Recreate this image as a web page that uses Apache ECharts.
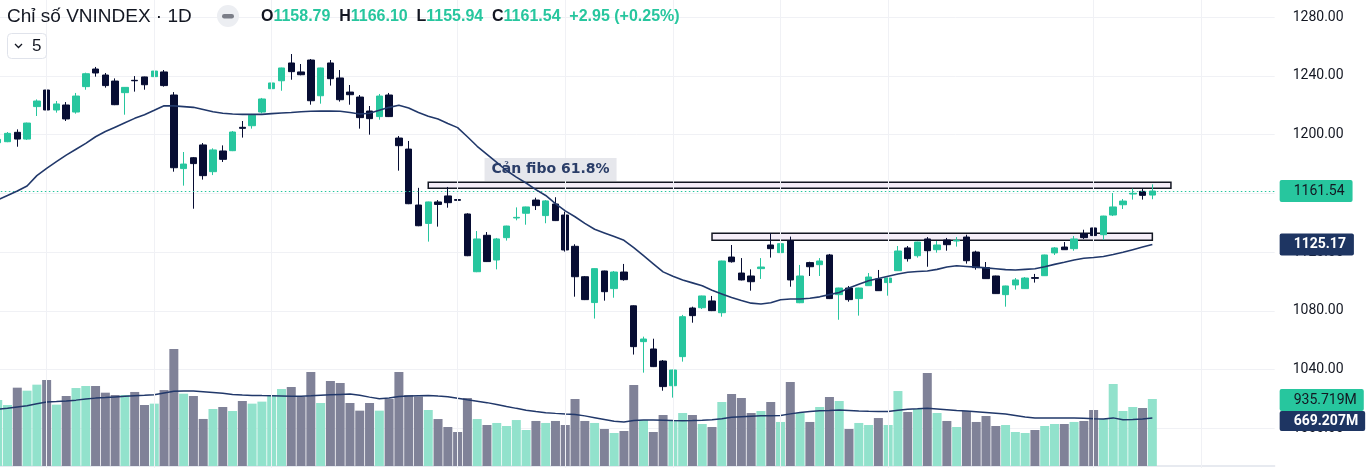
<!DOCTYPE html>
<html>
<head>
<meta charset="utf-8">
<title>VNINDEX 1D</title>
<script src="https://cdn.jsdelivr.net/npm/echarts@6/dist/echarts.min.js"></script>
<style>
  html, body { margin: 0; padding: 0; background: #fff; }
  #chart { width: 1366px; height: 468px; }
</style>
</head>
<body>
<div id="chart"></div>
<script>
// daily sessions, oldest first (the first one is cut by the left edge)
const openVals = [
  1194.4, 1195.1, 1201.5, 1196.9, 1219.0, 1230.3, 1216.7, 1220.1, 1215.3, 1232.6,
  1244.6, 1240.5, 1236.4, 1228.5, 1236.9, 1239.2, 1239.4, 1242.6, 1226.9, 1176.8,
  1184.2, 1192.9, 1174.7, 1188.8, 1189.0, 1204.9, 1206.0, 1215.3, 1231.2, 1236.6,
  1248.7, 1242.6, 1250.7, 1226.4, 1248.7, 1238.5, 1228.9, 1225.5, 1216.0, 1212.2,
  1226.9, 1197.6, 1190.1, 1152.0, 1139.5, 1154.1, 1158.2, 1155.7, 1145.9, 1106.6,
  1131.4, 1114.6, 1129.8, 1143.2, 1146.4, 1155.4, 1144.8, 1152.7, 1145.2, 1123.9,
  1103.2, 1085.6, 1107.1, 1095.1, 1106.4, 1083.4, 1059.0, 1054.0, 1045.8, 1029.0,
  1048.8, 1081.9, 1082.1, 1086.7, 1078.7, 1116.6, 1105.7, 1103.7, 1108.7, 1124.8,
  1119.6, 1127.7, 1085.5, 1112.8, 1111.4, 1118.0, 1091.0, 1095.5, 1088.3, 1097.1,
  1101.7, 1099.2, 1107.3, 1122.8, 1117.5, 1128.9, 1121.6, 1128.2, 1127.5, 1130.2,
  1120.0, 1109.4, 1103.7, 1091.0, 1097.6, 1095.1, 1102.6, 1103.9, 1119.4, 1123.4,
  1122.3, 1132.5, 1136.4, 1131.8, 1145.2, 1152.2, 1159.5, 1161.3, 1158.79
]
const highVals = [
  1197.5, 1201.7, 1203.5, 1208.1, 1223.9, 1234.6, 1222.8, 1222.1, 1228.3, 1242.1,
  1246.0, 1241.9, 1238.2, 1232.3, 1239.8, 1239.4, 1243.5, 1243.9, 1228.9, 1188.1,
  1184.7, 1194.2, 1190.6, 1192.6, 1202.4, 1209.2, 1214.0, 1224.9, 1236.4, 1245.5,
  1254.8, 1248.0, 1251.4, 1245.5, 1250.7, 1243.9, 1233.7, 1226.9, 1219.4, 1227.6,
  1228.3, 1199.0, 1195.6, 1163.7, 1154.3, 1155.4, 1164.3, 1161.6, 1146.4, 1134.3,
  1133.6, 1129.6, 1137.9, 1150.4, 1150.9, 1157.0, 1155.4, 1157.3, 1147.5, 1125.3,
  1103.7, 1108.9, 1107.3, 1107.1, 1111.9, 1083.7, 1062.4, 1061.0, 1046.5, 1039.9,
  1077.2, 1082.8, 1090.3, 1090.1, 1114.1, 1124.8, 1115.9, 1108.2, 1115.9, 1132.7,
  1126.4, 1130.5, 1111.2, 1113.4, 1115.9, 1118.7, 1095.7, 1096.9, 1095.7, 1105.7,
  1107.8, 1102.5, 1124.1, 1124.1, 1127.0, 1130.2, 1127.5, 1129.6, 1130.2, 1131.8,
  1120.9, 1113.2, 1103.9, 1097.1, 1102.3, 1103.0, 1105.1, 1118.2, 1123.4, 1126.8,
  1130.9, 1135.2, 1139.8, 1144.7, 1160.2, 1156.1, 1163.2, 1163.2, 1166.10
]
const lowVals = [
  1193.5, 1194.8, 1191.7, 1196.3, 1212.6, 1216.5, 1214.9, 1209.2, 1214.2, 1230.5,
  1239.4, 1231.9, 1220.0, 1213.5, 1229.2, 1230.5, 1235.3, 1232.6, 1174.7, 1165.2,
  1149.5, 1169.3, 1172.4, 1181.3, 1188.7, 1197.9, 1204.0, 1214.4, 1228.9, 1229.8,
  1237.3, 1240.3, 1220.3, 1221.0, 1233.3, 1222.4, 1220.3, 1204.0, 1199.9, 1210.1,
  1211.9, 1175.4, 1152.6, 1137.6, 1127.1, 1137.3, 1150.2, 1150.2, 1117.2, 1106.3,
  1113.2, 1108.2, 1127.8, 1141.6, 1138.6, 1148.6, 1139.6, 1141.1, 1120.3, 1089.6,
  1087.3, 1074.7, 1086.9, 1088.9, 1100.5, 1050.2, 1037.9, 1041.7, 1025.6, 1020.9,
  1045.4, 1071.9, 1081.2, 1079.8, 1076.0, 1112.8, 1100.7, 1093.7, 1101.7, 1116.2,
  1115.5, 1096.4, 1085.2, 1103.7, 1103.7, 1088.0, 1073.9, 1086.2, 1076.7, 1096.9,
  1093.5, 1090.3, 1107.1, 1113.5, 1116.2, 1110.0, 1119.6, 1120.9, 1123.7, 1112.1,
  1108.0, 1101.7, 1091.5, 1082.8, 1094.4, 1094.9, 1099.2, 1103.7, 1118.0, 1121.4,
  1120.9, 1128.9, 1128.9, 1128.2, 1144.5, 1149.3, 1155.7, 1155.7, 1155.94
]
const closeVals = [
  1196.7, 1200.8, 1196.9, 1207.8, 1222.8, 1216.7, 1220.8, 1210.6, 1226.2, 1241.4,
  1241.9, 1233.3, 1220.3, 1232.1, 1236.6, 1233.9, 1243.2, 1233.3, 1177.4, 1179.9,
  1180.2, 1172.0, 1189.5, 1183.1, 1201.7, 1204.2, 1213.1, 1224.2, 1235.1, 1245.3,
  1242.8, 1240.7, 1223.0, 1245.3, 1238.0, 1223.7, 1227.1, 1211.5, 1210.8, 1226.2,
  1212.2, 1192.4, 1152.9, 1137.9, 1154.1, 1152.4, 1153.6, 1155.2, 1117.5, 1128.9,
  1113.5, 1128.9, 1137.7, 1143.6, 1150.7, 1151.6, 1154.8, 1141.4, 1121.4, 1103.2,
  1087.6, 1108.7, 1093.0, 1106.4, 1101.2, 1055.6, 1060.8, 1042.0, 1028.4, 1039.7,
  1076.0, 1076.7, 1090.1, 1080.1, 1113.9, 1113.4, 1101.0, 1099.8, 1109.8, 1122.3,
  1125.7, 1101.0, 1103.7, 1110.0, 1113.9, 1088.3, 1095.5, 1087.6, 1095.5, 1103.0,
  1093.7, 1102.3, 1120.7, 1115.5, 1126.8, 1120.9, 1124.8, 1125.0, 1128.0, 1114.1,
  1109.4, 1101.9, 1091.7, 1096.9, 1101.0, 1102.3, 1102.1, 1118.0, 1122.8, 1121.6,
  1128.9, 1129.8, 1131.2, 1144.5, 1150.7, 1154.7, 1160.0, 1158.59, 1161.54
]
// volume in millions
const volumeVals = [
  922, 852, 1094, 1052, 1136, 1201, 857, 978, 1089, 1117,
  1117, 1024, 992, 992, 1034, 852, 871, 1061, 1634, 1010,
  978, 657, 796, 824, 768, 908, 871, 899, 992, 1075,
  1103, 968, 1313, 880, 1187, 1159, 880, 773, 880, 773,
  936, 1313, 992, 970, 782, 656, 545, 475, 950, 656,
  573, 601, 559, 642, 503, 629, 601, 629, 573, 936,
  629, 601, 517, 461, 489, 1131, 642, 475, 712, 629,
  740, 712, 587, 545, 894, 1006, 950, 740, 768, 894,
  615, 1173, 740, 615, 824, 964, 908, 517, 601, 573,
  670, 573, 1047, 754, 796, 1299, 740, 629, 545, 768,
  615, 698, 559, 573, 475, 461, 503, 559, 587, 587,
  615, 629, 782, 656, 1145, 768, 824, 810, 935.719
]
// moving averages as drawn on the chart
const ma20Vals = [
  1155.5, 1158.5, 1161.5, 1165, 1172, 1177, 1181.5, 1186, 1190, 1194,
  1198.5, 1202, 1205, 1208, 1211, 1213.5, 1216.5, 1219.6, 1219.5, 1219,
  1218.5, 1217, 1215.5, 1214.5, 1214, 1213.7, 1213.7, 1213.7, 1214.2, 1214.6,
  1215, 1215.5, 1215.8, 1216, 1215.9, 1215.8, 1215, 1214, 1214.5, 1216.5,
  1218.5, 1219.9, 1218, 1215, 1212.5, 1210.5, 1207.5, 1204.7, 1198.5, 1192,
  1186.5, 1181, 1175.5, 1171, 1167, 1162.5, 1158.5, 1153, 1148, 1144,
  1139.5, 1135.5, 1133, 1130.5, 1128, 1123, 1117.5, 1112, 1106.5, 1103.5,
  1101, 1099, 1097, 1094, 1091.5, 1089, 1087, 1085.2, 1084.6, 1085.5,
  1087.5, 1088, 1088, 1088.5, 1089.5, 1091, 1092.5, 1095.5, 1098, 1100.5,
  1102, 1103.5, 1105, 1106.2, 1106.8, 1107.1, 1108.2, 1109.8, 1110.7, 1110.2,
  1109.7, 1109.2, 1108.6, 1108, 1107.8, 1108.2, 1108.6, 1110, 1111.6, 1113,
  1114.6, 1115.8, 1116.3, 1117, 1118.3, 1119.8, 1121.6, 1123.4, 1125.17
]
const volMaVals = [
  795, 805, 825, 843, 870, 894, 900, 908, 920, 935,
  948, 955, 965, 975, 982, 988, 996, 1020, 1043, 1046,
  1047, 1038, 1028, 1015, 1000, 990, 986, 983, 981, 978,
  975, 974, 980, 988, 995, 1000, 1004, 988, 962, 940,
  950, 972, 978, 982, 986, 976, 968, 946, 925, 905,
  885, 860, 832, 805, 780, 760, 745, 735, 726, 718,
  700, 675, 650, 625, 615, 635, 642, 642, 640, 635,
  633, 636, 640, 645, 660, 680, 688, 696, 703, 703,
  705, 728, 748, 760, 770, 775, 782, 775, 768, 763,
  760, 762, 778, 792, 798, 805, 795, 785, 775, 768,
  758, 748, 738, 725, 705, 685, 670, 670, 670, 670,
  670, 668, 660, 658, 672, 645, 650, 658, 669.207
]
// sessions carrying a time-axis grid line
const timeGrid = [5, 16, 28, 47, 58, 69, 80, 91, 112, 123]
// drawn zones: [fromSession, lowPrice, toSession, highPrice]
const zones = [
  [44.0, 1163.4, 119.9, 1167.5],
  [73.0, 1128.0, 118.0, 1132.8]
]
const zoneNote = { text: 'Cản fibo 61.8%', session: 56.5, price: 1176.2 }
const slotCount = 131 // sessions + empty space on the right

const UP = '#27c69e'
const DOWN = '#070d33'
const NAVY = '#21386a'
const BADGE_NAVY = '#1e3562'
const FONT = 'Roboto'
const HEAD_FONT = 'Liberation Sans'
const HIDDEN_LINE = { color: 'rgba(0,0,0,0)', width: 0 }

const cats = Array.from({ length: slotCount }, (_, i) => String(i))
const candles = openVals.map((o, i) => [o, closeVals[i], lowVals[i], highVals[i]])
const volBars = volumeVals.map((v, i) => ({
  value: v,
  itemStyle: { color: closeVals[i] >= openVals[i] ? '#92e2cc' : '#808298' }
}))

const n = closeVals.length
const lastO = openVals[n - 1], lastH = highVals[n - 1], lastL = lowVals[n - 1], lastC = closeVals[n - 1]
const chg = lastC - closeVals[n - 2]
const chgPct = chg / closeVals[n - 2] * 100
const sign = chg >= 0 ? '+' : ''

// plot geometry: one session every 9.785px
const gridLeft = -7.18
const gridWidth = slotCount * 9.785

function badge(text, bg, fg, opt) {
  return Object.assign({
    show: true,
    position: 'end',
    distance: 5,
    formatter: text,
    backgroundColor: bg,
    color: fg,
    opacity: 1,
    fontFamily: FONT,
    fontSize: 14,
    lineHeight: 14,
    padding: [4, 8, 4, 14],
    borderRadius: 2
  }, opt || {})
}

const chart = echarts.init(document.getElementById('chart'))
chart.setOption({
  animation: false,
  backgroundColor: '#ffffff',
  title: [
    {
      text: 'Chỉ số VNINDEX · 1D',
      left: 7,
      top: 7,
      padding: 0,
      textStyle: { fontFamily: HEAD_FONT, fontSize: 19, fontWeight: 'normal', color: '#131722', lineHeight: 19 }
    },
    {
      text: '{k|O}{v|' + lastO.toFixed(2) + '}{k|H}{v|' + lastH.toFixed(2) + '}{k|L}{v|' + lastL.toFixed(2) +
        '}{k|C}{v|' + lastC.toFixed(2) + '}{v|' + sign + chg.toFixed(2) + ' (' + sign + chgPct.toFixed(2) + '%)}',
      left: 261,
      top: 9,
      padding: 0,
      textStyle: {
        rich: {
          k: { fontFamily: HEAD_FONT, fontSize: 16, color: '#131722', lineHeight: 16 },
          v: { fontFamily: HEAD_FONT, fontSize: 16, color: UP, lineHeight: 16, padding: [0, 8.8, 0, 0] }
        }
      }
    }
  ],
  graphic: [
    { type: 'circle', shape: { cx: 228, cy: 16, r: 11 }, style: { fill: '#eceef2' }, z: 10 },
    { type: 'rect', shape: { x: 222, y: 14, width: 12, height: 4.5, r: 2.2 }, style: { fill: '#7b7e88' }, z: 11 },
    { type: 'rect', shape: { x: 7.5, y: 33.5, width: 39, height: 25, r: 4 }, style: { fill: '#fff', stroke: '#e0e3eb', lineWidth: 1 }, z: 10 },
    { type: 'polyline', shape: { points: [[15, 44], [18.5, 47.5], [22, 44]] }, style: { stroke: '#131722', lineWidth: 1.3, fill: null }, z: 11 },
    { type: 'text', x: 32, y: 46.5, style: { text: '5', fontFamily: HEAD_FONT, fontSize: 17, fill: '#131722', verticalAlign: 'middle' }, z: 11 }
  ],
  grid: [
    // price pane: 1300 at the top edge, 960 at the bottom edge (both off the canvas)
    { left: gridLeft, width: gridWidth, top: -12.38, height: 499.46, containLabel: false, outerBoundsMode: 'none' },
    // volume overlay
    { left: gridLeft, width: gridWidth, bottom: 2, height: 143.2, containLabel: false, outerBoundsMode: 'none' }
  ],
  xAxis: [
    { type: 'category', gridIndex: 0, data: cats, boundaryGap: true, show: false },
    { type: 'value', gridIndex: 0, min: -0.5, max: slotCount - 0.5, show: false },
    {
      type: 'category', gridIndex: 1, data: cats, boundaryGap: true,
      axisLine: { show: true, lineStyle: { color: '#e0e3eb', width: 1.5 } },
      axisTick: { show: false }, axisLabel: { show: false }, splitLine: { show: false }
    }
  ],
  yAxis: [
    {
      type: 'value', gridIndex: 0, position: 'right',
      min: 960, max: 1300, interval: 40,
      axisLine: { show: false }, axisTick: { show: false },
      axisLabel: {
        margin: 18, fontFamily: FONT, fontSize: 14, color: '#131722',
        formatter: v => (v % 40 === 0 ? v.toFixed(2) : '')
      },
      splitLine: { lineStyle: { color: '#f0f1f5', width: 1 } }
    },
    { type: 'value', gridIndex: 1, min: 0, max: 2000, show: false, splitLine: { show: false } }
  ],
  series: [
    {
      // vertical time grid lines
      type: 'line', xAxisIndex: 1, yAxisIndex: 0, data: [], z: 0, silent: true,
      markLine: {
        silent: true, symbol: 'none', label: { show: false },
        lineStyle: { color: '#f0f1f5', width: 1, type: 'solid' },
        data: timeGrid.map(s => ({ xAxis: s }))
      }
    },
    {
      // resistance zones
      type: 'line', xAxisIndex: 1, yAxisIndex: 0, data: [], z: 1, silent: true,
      markArea: {
        silent: true,
        itemStyle: { color: 'rgba(242,232,246,0.75)', borderColor: '#131722', borderWidth: 1.5 },
        data: zones.map(z => [{ coord: [z[0], z[1]] }, { coord: [z[2], z[3]] }])
      }
    },
    {
      name: 'Volume', type: 'bar', xAxisIndex: 2, yAxisIndex: 1,
      data: volBars, barWidth: 9, z: 1, silent: true,
      markLine: {
        silent: true, symbol: 'none', lineStyle: HIDDEN_LINE,
        label: badge(volumeVals[n - 1].toFixed(3) + 'M', UP, '#131722', { offset: [0, 1], padding: [4, 7, 4, 14] }),
        data: [{ yAxis: volumeVals[n - 1] }]
      }
    },
    {
      name: 'Vol MA', type: 'line', xAxisIndex: 2, yAxisIndex: 1,
      data: volMaVals, symbol: 'none', z: 3, silent: true,
      lineStyle: { color: NAVY, width: 1.5 },
      markLine: {
        silent: true, symbol: 'none', lineStyle: HIDDEN_LINE,
        label: badge(volMaVals[n - 1].toFixed(3) + 'M', BADGE_NAVY, '#ffffff', { offset: [0, 3], padding: [3, 7, 3, 14], fontWeight: 'bold' }),
        data: [{ yAxis: volMaVals[n - 1] }]
      }
    },
    {
      name: 'VNINDEX', type: 'candlestick', xAxisIndex: 0, yAxisIndex: 0,
      data: candles, barWidth: 7, z: 4, silent: true,
      itemStyle: { color: UP, color0: DOWN, borderColor: UP, borderColor0: DOWN, borderWidth: 1 },
      markLine: {
        silent: true, symbol: 'none',
        lineStyle: { color: UP, type: [1.5, 2.5], width: 1.2 },
        label: badge(lastC.toFixed(2), UP, '#131722'),
        data: [{ yAxis: lastC }]
      }
    },
    {
      name: 'MA20', type: 'line', xAxisIndex: 0, yAxisIndex: 0,
      data: ma20Vals, symbol: 'none', z: 5, silent: true,
      lineStyle: { color: NAVY, width: 1.6 },
      markLine: {
        silent: true, symbol: 'none', lineStyle: HIDDEN_LINE,
        label: badge(ma20Vals[n - 1].toFixed(2), BADGE_NAVY, '#ffffff', { fontWeight: 'bold' }),
        data: [{ yAxis: ma20Vals[n - 1] }]
      }
    },
    {
      // zone caption
      type: 'line', xAxisIndex: 1, yAxisIndex: 0, data: [], z: 6, silent: true,
      markPoint: {
        silent: true, symbol: 'rect', symbolSize: 1, itemStyle: { color: 'rgba(0,0,0,0)' },
        label: {
          show: true, position: 'inside', formatter: zoneNote.text,
          fontFamily: 'DejaVu Sans', fontWeight: 'bold', fontSize: 14, lineHeight: 15,
          color: '#2a3d68', backgroundColor: 'rgba(226,227,233,0.85)', padding: [4, 7, 4, 7]
        },
        data: [{ coord: [zoneNote.session, zoneNote.price] }]
      }
    }
  ]
})
</script>
</body>
</html>
